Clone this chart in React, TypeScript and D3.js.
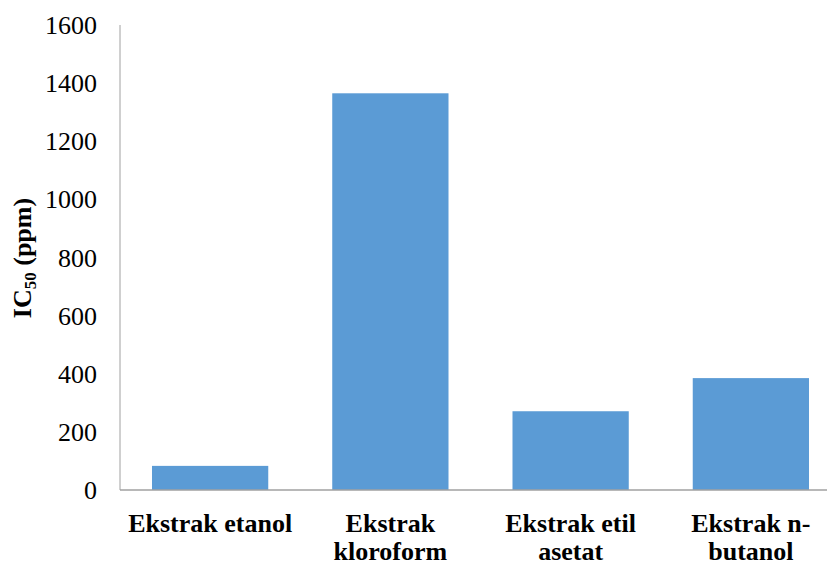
import React from "react";
import * as d3 from "d3";

// Extract IC50 values (ppm)
const categories = ["Ekstrak etanol", "Ekstrak kloroform", "Ekstrak etil asetat", "Ekstrak n-butanol"];
const values = [83, 1365, 271, 385];
// Label lines as they wrap under each bar
const categoryLines = [["Ekstrak etanol"], ["Ekstrak", "kloroform"], ["Ekstrak etil", "asetat"], ["Ekstrak n-", "butanol"]];
const yTicks = [0, 200, 400, 600, 800, 1000, 1200, 1400, 1600];

const W = 827;
const H = 564;
const left = 120;
const bottom = 490;
const top = 25;

const font = '"Liberation Serif", "Times New Roman", Times, serif';

export default function App() {
  const x = d3.scaleBand<string>().domain(categories).range([left, 841]).paddingInner(0.355).paddingOuter(0.1775);
  const y = d3.scaleLinear().domain([0, 1600]).range([bottom, top]);

  return (
    <svg width={W} height={H} style={{ position: "absolute", left: 0, top: 0, background: "#fff", fontFamily: font }}>
      {/* bars */}
      {categories.map((c, i) => (
        <rect key={c} x={x(c)} y={y(values[i])} width={x.bandwidth()} height={y(0) - y(values[i])} fill="#5B9BD5" />
      ))}
      {/* axes */}
      <line x1={left} x2={left} y1={y(1600)} y2={y(0)} stroke="#A0A0A0" strokeWidth={1} />
      <line x1={left} x2={W} y1={y(0)} y2={y(0)} stroke="#A0A0A0" strokeWidth={1.5} />
      {/* y tick labels */}
      {yTicks.map((t) => (
        <text key={t} x={97} y={y(t)} dy="0.35em" textAnchor="end" style={{ fontFamily: font }} fontSize={26} fill="#000">
          {t}
        </text>
      ))}
      {/* category labels */}
      {categories.map((c, i) => (
        <text key={c} x={(x(c) as number) + x.bandwidth() / 2} textAnchor="middle" style={{ fontFamily: font }} fontSize={26} fontWeight="bold" fill="#000">
          {categoryLines[i].map((line, j) => (
            <tspan key={j} x={(x(c) as number) + x.bandwidth() / 2} y={532 + j * 28}>
              {line}
            </tspan>
          ))}
        </text>
      ))}
      {/* y axis title */}
      <text transform="translate(31,258) rotate(-90)" textAnchor="middle" style={{ fontFamily: font }} fontSize={26} fontWeight="bold" fill="#000">
        IC
        <tspan fontSize={17} dy={5}>50</tspan>
        <tspan dy={-5}> (ppm)</tspan>
      </text>
    </svg>
  );
}
